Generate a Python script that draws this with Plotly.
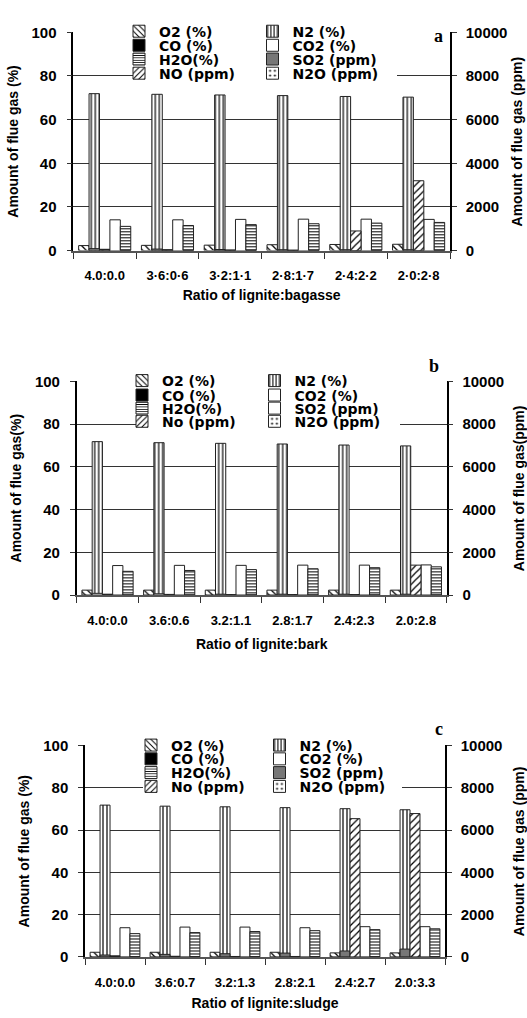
import plotly.graph_objects as go

W, H = 527, 1018

# ---------------- data ----------------
cats_a = ["4.0:0.0", "3·6:0·6", "3·2:1·1", "2·8:1·7", "2·4:2·2", "2·0:2·8"]
cats_b = ["4.0:0.0", "3.6:0.6", "3.2:1.1", "2.8:1.7", "2.4:2.3", "2.0:2.8"]
cats_c = ["4.0:0.0", "3.6:0.7", "3.2:1.3", "2.8:2.1", "2.4:2.7", "2.0:3.3"]

# percent series (left axis)
o2_a = [2.3, 2.4, 2.5, 2.7, 2.8, 2.9]
n2_a = [71.9, 71.6, 71.3, 71.0, 70.6, 70.3]
co_a = [0.6, 0.4, 0.3, 0.2, 0.2, 0.2]
co2_a = [14.1, 14.1, 14.3, 14.4, 14.4, 14.3]
h2o_a = [11.1, 11.5, 11.9, 12.3, 12.6, 12.9]
# ppm series (right axis)
so2_a = [90, 70, 50, 40, 40, 40]
no_a = [30, 20, 10, 10, 900, 3200]
n2o_a = [0, 0, 0, 0, 0, 0]

o2_b = [2.3, 2.3, 2.3, 2.3, 2.3, 2.3]
n2_b = [71.8, 71.3, 71.0, 70.7, 70.2, 69.8]
co_b = [0.4, 0.3, 0.2, 0.2, 0.2, 0.2]
co2_b = [13.8, 13.9, 13.9, 14.0, 14.0, 14.1]
h2o_b = [11.1, 11.5, 11.9, 12.3, 12.8, 13.2]
so2_b = [80, 60, 40, 40, 40, 40]
no_b = [20, 10, 10, 10, 10, 1400]
n2o_b = [0, 0, 0, 0, 0, 0]

o2_c = [2.2, 2.2, 2.2, 2.2, 1.9, 1.9]
n2_c = [71.8, 71.3, 71.0, 70.6, 70.1, 69.6]
co_c = [0.5, 0.3, 0.2, 0.2, 0.2, 0.2]
co2_c = [13.8, 14.1, 14.1, 13.8, 14.3, 14.3]
h2o_c = [11.0, 11.5, 12.0, 12.4, 12.9, 13.3]
so2_c = [90, 120, 150, 180, 280, 370]
no_c = [20, 10, 10, 10, 6540, 6780]
n2o_c = [0, 0, 0, 0, 0, 0]

left_ticks = [0, 20, 40, 60, 80, 100]
right_ticks = [0, 2000, 4000, 6000, 8000, 10000]

charts = [
    dict(cats=cats_a, o2=o2_a, n2=n2_a, co=co_a, co2=co2_a, h2o=h2o_a, so2=so2_a, no=no_a, n2o=n2o_a,
         xtitle="Ratio of lignite:bagasse", ytitle="Amount of flue gas (%)", y2title="Amount of flue gas (ppm)",
         no_name="NO (ppm)", so2_color="#777777", letter="a",
         box=(73.3, 450, 23.7, 245.7), rows=(24, 38.3, 52.3, 66.7), texts=(164, 298), white=(133, 397, 76),
         letter_xy=(438, 27), y2t_x=517, xt_standoff=7.6),
    dict(cats=cats_b, o2=o2_b, n2=n2_b, co=co_b, co2=co2_b, h2o=h2o_b, so2=so2_b, no=no_b, n2o=n2o_b,
         xtitle="Ratio of lignite:bark", ytitle="Amount of flue gas(%)", y2title="Amount of flue gas(ppm)",
         no_name="No (ppm)", so2_color="white", letter="b",
         box=(76.7, 446.7, 378.7, 596), rows=(379.3, 394, 407.3, 420.7), texts=(167, 300), white=(137, 400, 430),
         letter_xy=(434, 363), y2t_x=519, xt_standoff=12.3),
    dict(cats=cats_c, o2=o2_c, n2=n2_c, co=co_c, co2=co2_c, h2o=h2o_c, so2=so2_c, no=no_c, n2o=n2o_c,
         xtitle="Ratio of lignite:sludge", ytitle="Amount of flue gas (%)", y2title="Amount of flue gas (ppm)",
         no_name="No (ppm)", so2_color="#777777", letter="c",
         box=(85, 445, 749, 964), rows=(750, 764, 778, 792), texts=(176, 305), white=(143, 402, 800),
         letter_xy=(439, 732), y2t_x=519, xt_standoff=10),
]

FONT = "Liberation Sans"
LEGFONT = "DejaVu Sans"

fig = go.Figure()
layout = dict(width=W, height=H, margin=dict(l=0, r=0, t=0, b=0), barmode="group", bargap=0.17,
              plot_bgcolor="white", paper_bgcolor="white", showlegend=True,
              font=dict(family=FONT, size=13, color="black", weight="bold"))
shapes, annotations = [], []

line = dict(color="#222222", width=1)

for k, ch in enumerate(charts):
    xid = "x" if k == 0 else f"x{k+1}"
    y1n, y2n = 2 * k + 1, 2 * k + 2
    yid = "y" if y1n == 1 else f"y{y1n}"
    y2id = f"y{y2n}"
    leg = [("legend" if (4 * k + r + 1) == 1 else f"legend{4*k+r+1}") for r in range(4)]
    c = ch["cats"]

    def bar(name, vals, yaxis, slot, rank, legend, color="white", shape="", size=4, sol=0.3):
        fig.add_trace(go.Bar(
            x=c, y=vals, name=name, xaxis=xid, yaxis=yaxis, offsetgroup=f"s{slot}",
            alignmentgroup=f"g{k}", legend=legend, legendrank=rank,
            marker=dict(color=color, line=line,
                        pattern=dict(shape=shape, fgcolor="black", bgcolor=color, size=size,
                                     solidity=sol, fillmode="replace")),
            hoverinfo="skip"))

    bar("O2 (%)", ch["o2"], yid, 0, 1, leg[0], shape="\\", size=5, sol=0.25)
    bar("N2 (%)", ch["n2"], yid, 1, 2, leg[0], shape="|", size=4, sol=0.3)
    bar("SO2 (ppm)", ch["so2"], y2id, 1, 6, leg[2], color=ch["so2_color"])
    bar("CO (%)", ch["co"], yid, 2, 3, leg[1], color="black")
    bar(ch["no_name"], ch["no"], y2id, 2, 7, leg[3], shape="/", size=5, sol=0.25)
    bar("CO2 (%)", ch["co2"], yid, 3, 4, leg[1])
    bar("H2O(%)", ch["h2o"], yid, 4, 5, leg[2], shape="-", size=3, sol=0.35)
    bar("N2O (ppm)", ch["n2o"], y2id, 4, 8, leg[3], shape=".", size=6, sol=0.15)

    x0, x1, yt, yb = ch["box"]
    xd = [x0 / W, x1 / W]
    yd = [1 - yb / H, 1 - yt / H]
    xkey = "xaxis" if k == 0 else f"xaxis{k+1}"
    ykey = "yaxis" if y1n == 1 else f"yaxis{y1n}"
    y2key = f"yaxis{y2n}"
    layout[xkey] = dict(domain=xd, anchor=yid, type="category", tickson="boundaries", ticks="outside",
                        ticklen=6, tickcolor="#333", showline=True, linecolor="#555", linewidth=2,
                        tickfont=dict(size=13, family=FONT), ticklabelstandoff=12,
                        title=dict(text=ch["xtitle"], font=dict(size=14, family=FONT),
                                   standoff=ch["xt_standoff"]),
                        showgrid=False)
    layout[ykey] = dict(domain=yd, anchor=xid, range=[0, 100], tickvals=left_ticks, ticks="outside",
                        ticklen=5, tickcolor="#333", showline=True, linecolor="black", linewidth=1.5,
                        showgrid=True, gridcolor="#333", gridwidth=1, zeroline=False,
                        tickfont=dict(size=15, family=FONT), ticklabelstandoff=7,
                        title=dict(text=ch["ytitle"], font=dict(size=14, family=FONT), standoff=10))
    layout[y2key] = dict(overlaying=yid, side="right", anchor=xid, range=[0, 10000], tickvals=right_ticks,
                         tickformat="d", ticks="outside", ticklen=5, tickcolor="#333", showline=True,
                         linecolor="black", linewidth=1.5, showgrid=False, zeroline=False,
                         tickfont=dict(size=15, family=FONT), ticklabelstandoff=6)

    # right axis title
    annotations.append(dict(text=ch["y2title"], xref="paper", yref="paper", x=ch["y2t_x"] / W,
                            y=1 - (yt + yb) / 2 / H, xanchor="center", yanchor="middle", textangle=-90,
                            showarrow=False, font=dict(family=FONT, size=14, weight="bold")))

    # legend rows (4 rows x 2 columns)
    t0, t1 = ch["texts"]
    for r in range(4):
        lk = "legend" if (4 * k + r + 1) == 1 else f"legend{4*k+r+1}"
        layout[lk] = dict(orientation="h", x=(t0 - 45) / W, xanchor="left",
                          y=1 - (ch["rows"][r] - 1) / H, yanchor="middle", bgcolor="rgba(0,0,0,0)",
                          entrywidth=t1 - t0 - 45.5, entrywidthmode="pixels",
                          font=dict(family=LEGFONT, size=14, weight="bold"), itemclick=False,
                          itemdoubleclick=False, borderwidth=0, tracegroupgap=0)

    # white block behind legend (breaks the gridlines like the reference), in data coordinates
    wx0, wx1, wyb = ch["white"]
    ncat = len(c)
    shapes.append(dict(type="rect", layer="between", xref=xid, yref=yid,
                       x0=-0.5 + (wx0 - x0) / (x1 - x0) * ncat, x1=-0.5 + (wx1 - x0) / (x1 - x0) * ncat,
                       y0=(yb - wyb) / (yb - yt) * 100, y1=102, fillcolor="white", line=dict(width=0)))
    lx, ly = ch["letter_xy"]
    annotations.append(dict(text=ch["letter"], xref="paper", yref="paper", x=lx / W, y=1 - ly / H,
                            xanchor="center", yanchor="middle", showarrow=False,
                            font=dict(family="Liberation Serif", size=18, weight="bold")))

layout["shapes"] = shapes
layout["annotations"] = annotations
fig.update_layout(**layout)
fig.write_html("out.html", config={"displayModeBar": False},
               post_script="document.body.style.margin='0';")
